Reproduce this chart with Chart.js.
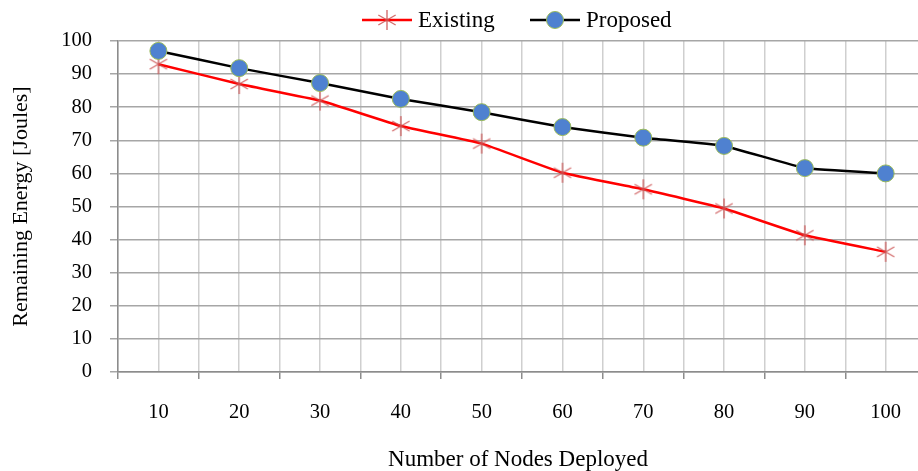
<!DOCTYPE html>
<html>
<head>
<meta charset="utf-8">
<title>Remaining Energy</title>
<script src="https://cdn.jsdelivr.net/npm/chart.js"></script>
<style>
    html, body { margin: 0; padding: 0; background: #ffffff; }
    #chart-wrap { width: 918px; height: 471px; }
</style>
</head>
<body>
<div id="chart-wrap"><canvas id="energy-chart" width="918" height="471"></canvas></div>
<script>
// values
var nodeCounts = [10, 20, 30, 40, 50, 60, 70, 80, 90, 100];
var existingEnergy = [93, 87, 82, 74.3, 69, 60.2, 55.2, 49.4, 41.3, 36.3];
var proposedEnergy = [97, 91.8, 87.3, 82.5, 78.5, 74, 70.8, 68.3, 61.6, 60];
var seriesNames = ['Existing', 'Proposed'];
var energyTicks = { min: 0, max: 100, step: 10 };

var serif = "'Liberation Serif', 'Times New Roman', serif";

// asterisk marker like the Excel "star"
function makeStarMarker(radius, color) {
    var size = radius * 2 + 4;
    var c = document.createElement('canvas');
    c.width = size;
    c.height = size;
    var g = c.getContext('2d');
    var m = size / 2;
    g.strokeStyle = color;
    g.lineWidth = 1.4;
    g.beginPath();
    for (var a = 0; a < 3; a++) {
        var ang = Math.PI / 2 + a * Math.PI / 3;
        var dx = Math.cos(ang) * radius, dy = Math.sin(ang) * radius;
        g.moveTo(m - dx, m - dy);
        g.lineTo(m + dx, m + dy);
    }
    g.stroke();
    return c;
}

var starMarker = makeStarMarker(10, 'rgba(205, 85, 85, 0.85)');

function toPoints(values) {
    return values.map(function (v, i) { return { x: nodeCounts[i], y: v }; });
}

// legend drawn as line + marker + label, Excel style
var lineLegend = {
    id: 'lineLegend',
    afterDraw: function (chart) {
        var ctx = chart.ctx;
        var items = [
            { set: chart.data.datasets[0], x: 362 },
            { set: chart.data.datasets[1], x: 530 }
        ];
        var y = 20;
        ctx.save();
        items.forEach(function (item) {
            var ds = item.set;
            ctx.strokeStyle = ds.borderColor;
            ctx.lineWidth = ds.borderWidth;
            ctx.beginPath();
            ctx.moveTo(item.x, y);
            ctx.lineTo(item.x + 50, y);
            ctx.stroke();
            if (ds.pointStyle === 'circle') {
                ctx.fillStyle = ds.pointBackgroundColor;
                ctx.strokeStyle = ds.pointBorderColor;
                ctx.lineWidth = ds.pointBorderWidth;
                ctx.beginPath();
                ctx.arc(item.x + 25, y, ds.pointRadius, 0, Math.PI * 2);
                ctx.fill();
                ctx.stroke();
            } else {
                ctx.drawImage(ds.pointStyle, item.x + 25 - ds.pointStyle.width / 2, y - ds.pointStyle.height / 2);
            }
            ctx.fillStyle = '#000000';
            ctx.font = '23px ' + serif;
            ctx.textAlign = 'left';
            ctx.textBaseline = 'alphabetic';
            ctx.fillText(ds.label, item.x + 56, 27);
        });
        ctx.restore();
    }
};

var ctx = document.getElementById('energy-chart');
var EnergyChart = new Chart(ctx, {
    type: 'line',
    data: {
        datasets: [{
            label: seriesNames[0],
            data: toPoints(existingEnergy),
            borderColor: '#ff0000',
            borderWidth: 2.5,
            tension: 0.1,
            pointStyle: starMarker,
            pointRadius: 10,
            order: 1
        }, {
            label: seriesNames[1],
            data: toPoints(proposedEnergy),
            borderColor: '#000000',
            borderWidth: 2.5,
            tension: 0.1,
            pointStyle: 'circle',
            pointRadius: 8.5,
            pointBackgroundColor: '#4f81d0',
            pointBorderColor: '#9bbb59',
            pointBorderWidth: 1,
            order: 0
        }]
    },
    plugins: [lineLegend],
    options: {
        responsive: false,
        animation: false,
        events: [],
        layout: {
            autoPadding: false,
            padding: { top: 41, right: 0, left: 0, bottom: 0 }
        },
        plugins: {
            legend: { display: false },
            tooltip: { enabled: false }
        },
        scales: {
            x: {
                type: 'linear',
                min: 5,
                max: 104,
                afterFit: function (scale) {
                    scale.height = 99;
                    scale.paddingLeft = 0;
                    scale.paddingRight = 0;
                },
                border: { color: '#8c8c8c', width: 1.5 },
                grid: {
                    color: '#cfcfcf',
                    lineWidth: 1.5,
                    tickLength: 7,
                    tickWidth: 1.5,
                    tickColor: function (c) {
                        return c.tick && c.tick.value % 10 === 0 ? 'rgba(0,0,0,0)' : '#8c8c8c';
                    }
                },
                ticks: {
                    stepSize: 5,
                    includeBounds: false,
                    autoSkip: false,
                    maxRotation: 0,
                    padding: 21,
                    color: '#000000',
                    font: { family: serif, size: 20.5 },
                    callback: function (v) { return v % 10 === 0 ? v : ''; }
                },
                title: {
                    display: true,
                    text: 'Number of Nodes Deployed',
                    color: '#000000',
                    font: { family: serif, size: 23, lineHeight: 1 },
                    padding: { top: 0, bottom: 0 }
                }
            },
            y: {
                min: energyTicks.min,
                max: energyTicks.max,
                afterFit: function (scale) {
                    scale.width = 118;
                    scale.paddingTop = 0;
                    scale.paddingBottom = 0;
                },
                border: { color: '#8c8c8c', width: 1.5 },
                grid: {
                    color: '#a6a6a6',
                    lineWidth: 1.5,
                    tickLength: 8
                },
                ticks: {
                    stepSize: energyTicks.step,
                    padding: 18,
                    color: '#000000',
                    font: { family: serif, size: 20.5 }
                },
                title: {
                    display: true,
                    text: 'Remaining Energy [Joules]',
                    color: '#000000',
                    font: { family: serif, size: 22, lineHeight: 1 },
                    padding: { top: 10, bottom: 0 }
                }
            }
        }
    }
});
</script>
</body>
</html>
